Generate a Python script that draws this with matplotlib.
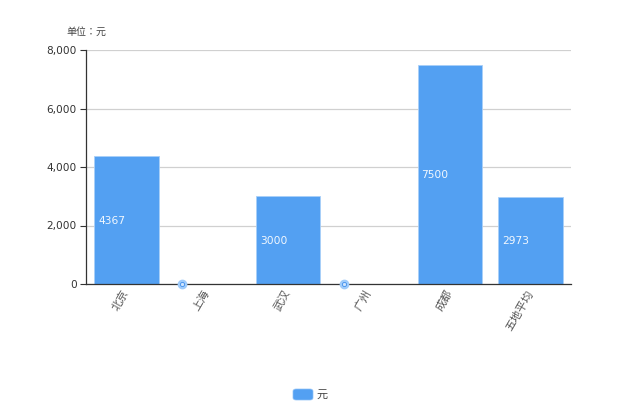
import matplotlib
matplotlib.use('Agg')
import matplotlib.pyplot as plt
from matplotlib.patches import FancyBboxPatch

plt.rcParams['font.family'] = ['Noto Sans CJK SC', 'DejaVu Sans']

cities = ['北京', '上海', '武汉', '广州', '成都', '五地平均']
values = [4367, 0, 3000, 0, 7500, 2973]
yticks = [0, 2000, 4000, 6000, 8000]
bar_color = '#53a0f2'

fig = plt.figure(figsize=(6.2, 4.13), dpi=100)
ax = fig.add_axes([86 / 620, 1 - 284 / 413, 485 / 620, 234 / 413])

x = list(range(len(cities)))
for i, v in zip(x, values):
    if v > 0:
        ax.bar(i, v, width=0.795, color=bar_color, edgecolor='#a9cff8', linewidth=0.6, zorder=2)
        # value label sits inside the bar, left aligned at mid height
        ax.annotate(str(v), (i - 0.4, v / 2), xytext=(3, -0.5), textcoords='offset points',
                    ha='left', va='center', color='white', fontsize=7.7,
                    family='DejaVu Sans', zorder=4, alpha=0.92)
    else:
        # empty values get a small round marker near the left of the slot
        ax.plot(i - 0.31, 0, 'o', ms=6, mfc='#9fcbfa', mec='#9fcbfa', clip_on=False, zorder=5)
        ax.plot(i - 0.31, 0, 'o', ms=3, mfc='#cfe4fc', mec='#3f8fee', mew=0.6, clip_on=False, zorder=6)

ax.set_xlim(-0.5, 5.5)
ax.set_ylim(0, 8000)
ax.set_yticks(yticks)
ax.set_yticklabels([f'{t:,}' for t in yticks], family='DejaVu Sans', fontsize=7.6, color='#333333')
ax.set_xticks(x)
ax.set_xticklabels(cities, rotation=60, ha='right', va='center', fontsize=8, color='#555555',
                   rotation_mode='anchor')
ax.tick_params(axis='x', length=0, pad=5)
ax.tick_params(axis='y', length=4, width=0.8, color='#333333', pad=2.5)
ax.grid(axis='y', color='#d0d0d0', linewidth=0.9, zorder=0)
ax.set_axisbelow(True)
for s in ['top', 'right']:
    ax.spines[s].set_visible(False)
for s in ['left', 'bottom']:
    ax.spines[s].set_color('#333333')
    ax.spines[s].set_linewidth(0.9)

fig.text(66 / 620, 1 - 32 / 413, '单位：元', fontsize=7.2, color='#444444', va='center',
         family=['Noto Sans CJK TC', 'DejaVu Sans'])

# legend swatch and label
fig.add_artist(FancyBboxPatch((293 / 620, 1 - 400 / 413), 20 / 620, 11 / 413,
                              boxstyle='round,pad=0,rounding_size=0.005',
                              transform=fig.transFigure, fc=bar_color, ec='#8fc1f7', lw=0.5))
fig.text(317 / 620, 1 - 395 / 413, '元', fontsize=8, color='#444444', va='center')

fig.savefig('out.png', dpi=100)
